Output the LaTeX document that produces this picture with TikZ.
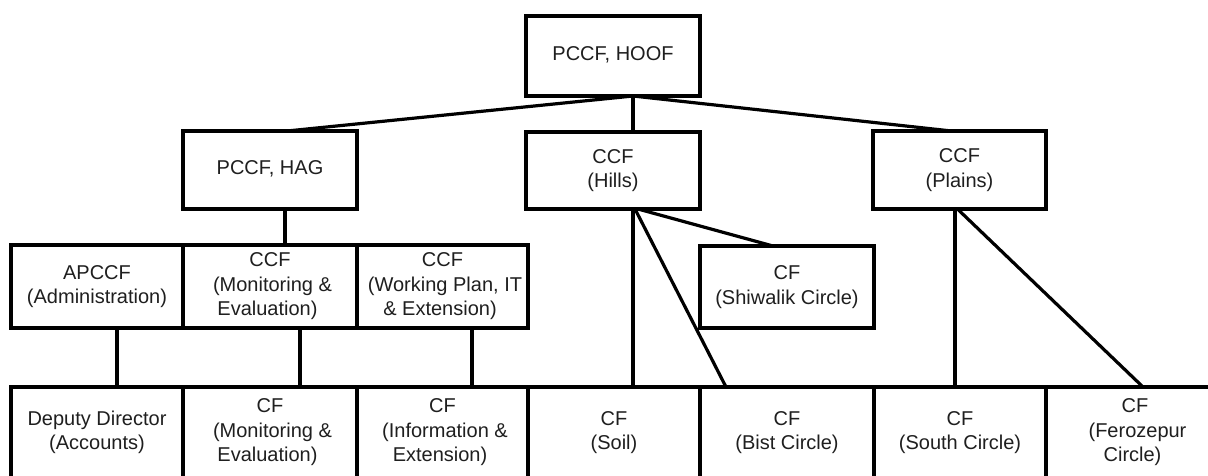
\documentclass[tikz,border=0pt]{standalone}
\usepackage{fontspec}
\setmainfont{Liberation Sans}
\usetikzlibrary{calc}
\newcommand{\tb}[1]{\raisebox{-2.5pt}{\begin{tabular}{@{}c@{}}#1\end{tabular}}}
\newcommand{\lpr}{\hspace*{0.25em}(}
\newcommand{\rpr}{)\hspace*{0.25em}}
\begin{document}
\begin{tikzpicture}[x=1pt,y=-1pt,
  box/.style={draw=black, line width=3.5pt, rectangle, inner sep=0pt, outer sep=0pt,
    align=center, font=\fontsize{20}{24.5}\selectfont, text=black!88},
  conn/.style={draw=black, line width=3.2pt}]
\useasboundingbox (0,0) rectangle (1208,475);
\fill[white] (0,0) rectangle (1208,475);
\clip (0,0) rectangle (1208,475);
% level 0
\node[box, minimum width=174pt, minimum height=80pt] (hoof) at (613,56) {\tb{PCCF, HOOF}};
% level 1
\node[box, minimum width=174pt, minimum height=78pt] (hag) at (270,170) {\tb{PCCF, HAG}};
\node[box, minimum width=174pt, minimum height=77pt] (hills) at (613,170.5) {\tb{CCF\\\lpr Hills\rpr}};
\node[box, minimum width=173pt, minimum height=78pt] (plains) at (959.5,170) {\tb{CCF\\\lpr Plains\rpr}};
% level 2
\node[box, minimum width=172pt, minimum height=83pt] (apccf) at (97,286.5) {\tb{APCCF\\\lpr Administration\rpr}};
\node[box, minimum width=174pt, minimum height=83pt] (ccfme) at (270,286.5) {\tb{CCF\\\lpr Monitoring \&\\Evaluation\rpr}};
\node[box, minimum width=171pt, minimum height=83pt] (ccfwp) at (442.5,286.5) {\tb{CCF\\\lpr Working Plan, IT\\\& Extension\rpr}};
\node[box, minimum width=174pt, minimum height=82pt] (shiw) at (787,287) {\tb{CF\\\lpr Shiwalik Circle\rpr}};
% level 3
\node[box, minimum width=172pt, minimum height=91pt] (dd) at (97,432.5) {\tb{Deputy Director\\\lpr Accounts\rpr}};
\node[box, minimum width=174pt, minimum height=91pt] (cfme) at (270,432.5) {\tb{CF\\\lpr Monitoring \&\\Evaluation\rpr}};
\node[box, minimum width=171pt, minimum height=91pt] (cfie) at (442.5,432.5) {\tb{CF\\\lpr Information \&\\Extension\rpr}};
\node[box, minimum width=172pt, minimum height=91pt] (soil) at (614,432.5) {\tb{CF\\\lpr Soil\rpr}};
\node[box, minimum width=174pt, minimum height=91pt] (bist) at (787,432.5) {\tb{CF\\\lpr Bist Circle\rpr}};
\node[box, minimum width=172pt, minimum height=91pt] (south) at (960,432.5) {\tb{CF\\\lpr South Circle\rpr}};
\node[box, minimum width=178pt, minimum height=91pt] (fero) at (1135,432.5) {\tb{CF\\\lpr Ferozepur\\Circle\rpr}};
% connectors
\draw[conn] ($(hoof.south)+(20,0)$) coordinate (hub) -- ($(hag.north)+(17,0)$);
\draw[conn] (hub) -- ($(hills.north)+(20,0)$);
\draw[conn] (hub) -- ($(plains.north)+(-8,0)$);
\draw[conn] ($(hag.south)+(15,0)$) -- ($(ccfme.north)+(15,0)$);
\draw[conn] ($(apccf.south)+(20,0)$) -- ($(dd.north)+(20,0)$);
\draw[conn] ($(ccfme.south)+(30,0)$) -- ($(cfme.north)+(30,0)$);
\draw[conn] ($(ccfwp.south)+(29.5,0)$) -- ($(cfie.north)+(29.5,0)$);
\draw[conn] ($(hills.south)+(20,0)$) -- ($(soil.north)+(19,0)$);
\draw[conn] ($(hills.south)+(22,0)$) -- ($(bist.north)+(-61,0)$);
\draw[conn] ($(hills.south)+(25,0)$) -- ($(shiw.north)+(-14,0)$);
\draw[conn] ($(plains.south)+(-4.5,0)$) -- ($(south.north)+(-5,0)$);
\draw[conn] ($(plains.south)+(-2,0)$) -- ($(fero.north)+(8,0)$);
\end{tikzpicture}
\end{document}
